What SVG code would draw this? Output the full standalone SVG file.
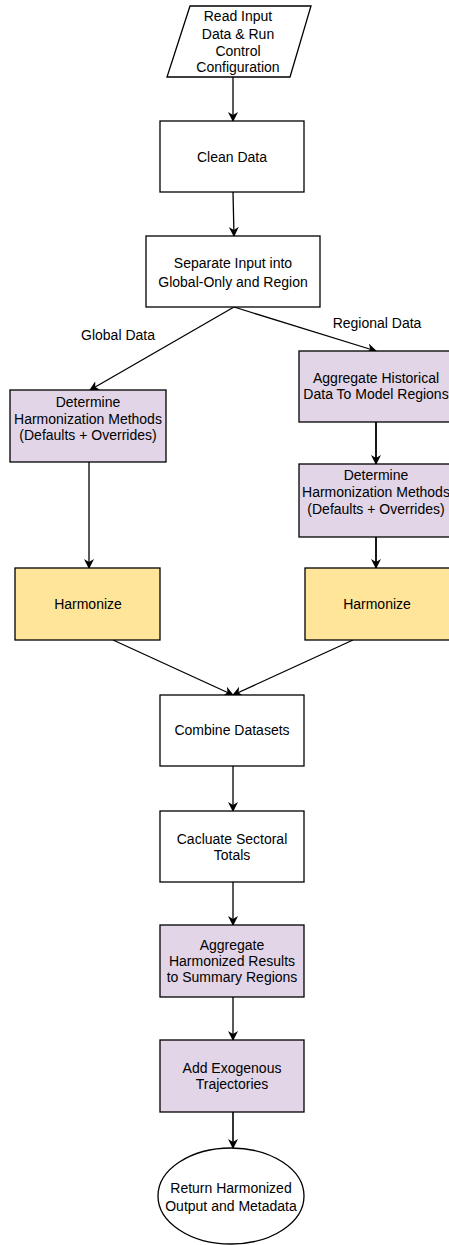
<svg xmlns="http://www.w3.org/2000/svg" width="449" height="1245" viewBox="0 0 449 1245">
<style>
.n{stroke:#000;stroke-width:1.3}
.w{fill:#fff}.p{fill:#e1d5e7}.y{fill:#ffe599}
text{font-family:"Liberation Sans",Arial,sans-serif;font-size:14px;fill:#000;text-anchor:middle}
.e{fill:none;stroke:#000;stroke-width:1.3}
</style>
<defs>
<marker id="a" viewBox="0 0 10 10" refX="9" refY="5" markerWidth="10" markerHeight="10" markerUnits="userSpaceOnUse" orient="auto">
<path d="M0,0 L10,5 L0,10 L3,5 Z" fill="#000"/>
</marker>
</defs>
<rect width="449" height="1245" fill="#fff"/>
<g id="connectors">
<path class="e" d="M233,77 L233,121" marker-end="url(#a)"/>
<path class="e" d="M233,192 L234,236" marker-end="url(#a)"/>
<path class="e" d="M234,307 L90,390" marker-end="url(#a)"/>
<path class="e" d="M234,307 L376,351" marker-end="url(#a)"/>
<path class="e" d="M89,462 L89,568" marker-end="url(#a)"/>
<path class="e" d="M376,422 L376,464" marker-end="url(#a)" style="stroke-width:1.8"/>
<path class="e" d="M376,537 L376,568" marker-end="url(#a)" style="stroke-width:1.8"/>
<path class="e" d="M113,640 L233,695" marker-end="url(#a)"/>
<path class="e" d="M353,640 L233,695" marker-end="url(#a)"/>
<path class="e" d="M233,766 L233,811" marker-end="url(#a)"/>
<path class="e" d="M233,882 L233,925" marker-end="url(#a)"/>
<path class="e" d="M233,997 L233,1040" marker-end="url(#a)"/>
<path class="e" d="M233,1112 L233,1148" marker-end="url(#a)" style="stroke-width:1.6"/>
<text x="118" y="340">Global Data</text>
<text x="377" y="328">Regional Data</text>
</g>
<g id="read-input">
<polygon class="n w" points="190,6 311,6 290,77 167,77"/>
<text x="238" y="21">Read Input</text>
<text x="238" y="39">Data &amp; Run</text>
<text x="238" y="56">Control</text>
<text x="238" y="72">Configuration</text>
</g>
<g id="clean-data">
<rect class="n w" x="160" y="121" width="144" height="71"/>
<text x="232" y="162">Clean Data</text>
</g>
<g id="separate">
<rect class="n w" x="146" y="236" width="174" height="71"/>
<text x="233" y="268">Separate Input into</text>
<text x="233" y="287">Global-Only and Region</text>
</g>
<g id="determine-global">
<rect class="n p" x="10" y="390" width="156" height="72"/>
<text x="88" y="407">Determine</text>
<text x="88" y="424">Harmonization Methods</text>
<text x="88" y="440">(Defaults + Overrides)</text>
</g>
<g id="aggregate-historical">
<rect class="n p" x="299" y="351" width="154" height="71"/>
<text x="376" y="383">Aggregate Historical</text>
<text x="376" y="399">Data To Model Regions</text>
</g>
<g id="determine-regional">
<rect class="n p" x="299" y="464" width="154" height="73"/>
<text x="376" y="480">Determine</text>
<text x="376" y="497">Harmonization Methods</text>
<text x="376" y="514">(Defaults + Overrides)</text>
</g>
<g id="harmonize-global">
<rect class="n y" x="15" y="568" width="145" height="72"/>
<text x="88" y="609">Harmonize</text>
</g>
<g id="harmonize-regional">
<rect class="n y" x="305" y="568" width="147" height="72"/>
<text x="377" y="609">Harmonize</text>
</g>
<g id="combine">
<rect class="n w" x="160" y="695" width="144" height="71"/>
<text x="232" y="735">Combine Datasets</text>
</g>
<g id="sectoral">
<rect class="n w" x="160" y="811" width="144" height="71"/>
<text x="232" y="844">Cacluate Sectoral</text>
<text x="232" y="860">Totals</text>
</g>
<g id="aggregate-harmonized">
<rect class="n p" x="160" y="925" width="144" height="72"/>
<text x="232" y="950">Aggregate</text>
<text x="232" y="966">Harmonized Results</text>
<text x="232" y="982">to Summary Regions</text>
</g>
<g id="exogenous">
<rect class="n p" x="160" y="1040" width="144" height="72"/>
<text x="232" y="1073">Add Exogenous</text>
<text x="232" y="1089">Trajectories</text>
</g>
<g id="return">
<ellipse class="n w" cx="231" cy="1196" rx="73" ry="48"/>
<text x="231" y="1193">Return Harmonized</text>
<text x="231" y="1211">Output and Metadata</text>
</g>
</svg>
